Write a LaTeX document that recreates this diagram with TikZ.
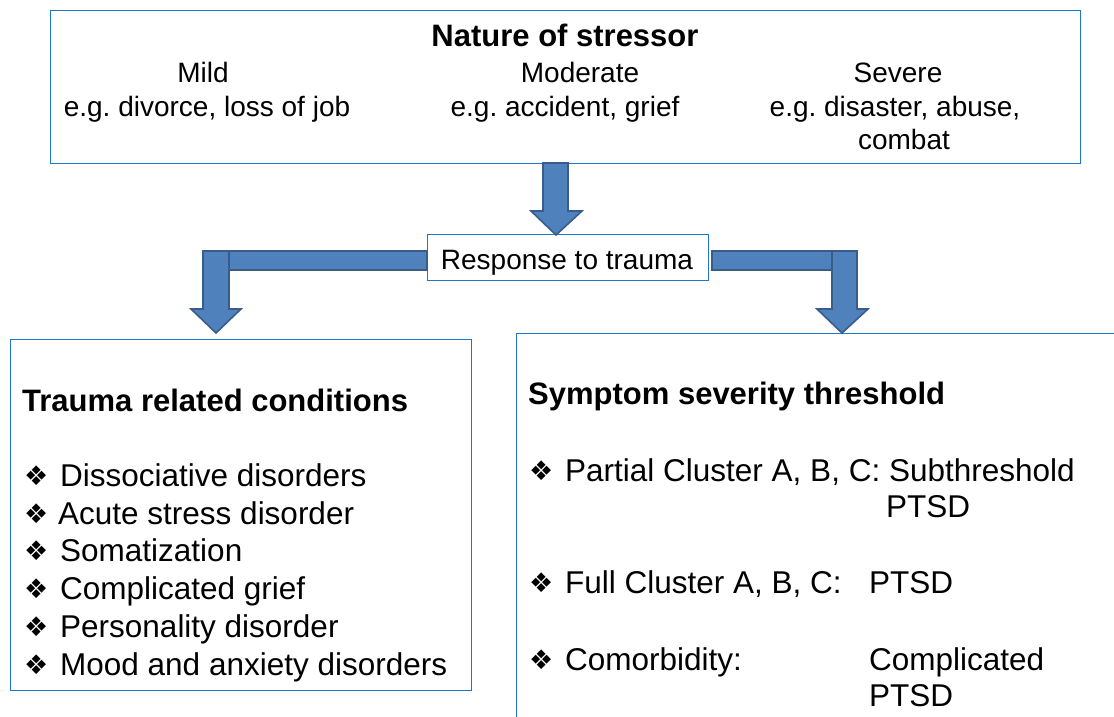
\documentclass[tikz,border=0pt]{standalone}
\usepackage{fontspec}
\setmainfont{Liberation Sans}
\newfontfamily\symfont{DejaVu Sans}
\definecolor{boxblue}{RGB}{30,120,200}
\definecolor{arrfill}{RGB}{79,129,189}
\definecolor{arredge}{RGB}{56,93,138}
\frenchspacing
\begin{document}
\begin{tikzpicture}[x=1pt,y=-1pt,
  box/.style={draw=boxblue, line width=1.3pt, inner sep=0pt},
  blockarrow/.style={fill=arrfill, draw=arredge, line width=1.6pt, line join=miter},
  txt/.style={inner sep=0pt, anchor=base, font=\fontsize{28}{33}\selectfont},
  lst/.style={inner sep=0pt, anchor=base west, font=\fontsize{31.5}{37}\selectfont},
  hd/.style={inner sep=0pt, anchor=base west, font=\fontsize{31}{37}\selectfont\bfseries},
  bul/.style={inner sep=0pt, anchor=base west, font=\symfont\fontsize{27}{30}\selectfont}]
\useasboundingbox (0,0) rectangle (1114,717);
\clip (0,0) rectangle (1114,717);
\fill[white] (0,0) rectangle (1114,717);

% boxes
\node (topbox) [box, anchor=north west, minimum width=1030pt, minimum height=153pt] at (50,10) {};
\node (resp) [box, anchor=north west, minimum width=281pt, minimum height=46pt] at (427,234) {};
\node (leftbox) [box, anchor=north west, minimum width=461pt, minimum height=351pt] at (10,339) {};
\node (rightbox) [box, anchor=north west, minimum width=700pt, minimum height=500pt] at (516,333) {};

% top box texts
\node (title) [inner sep=0pt, anchor=base, font=\fontsize{31}{37}\selectfont\bfseries] at (565,47) {Nature of stressor};
\node (mild) [txt] at (203,82) {Mild};
\node (mildeg) [txt] at (207,116) {e.g. divorce, loss of job};
\node (moderate) [txt] at (580,82) {Moderate};
\node (moderateeg) [txt] at (565,116) {e.g. accident, grief};
\node (severe) [txt] at (898,82) {Severe};
\node (severeeg) [txt] at (895,116) {e.g. disaster, abuse,};
\node (severec) [txt] at (904,149) {combat};

\node (resptext) [txt] at (567,269) {Response to trauma};

% arrows
\draw[blockarrow] (543,163) -- (568,163) -- (568,211) -- (582,211) -- (556,235) -- (531,211) -- (543,211) -- cycle;
\draw[blockarrow] (resp.west |- 0,251) -- (216,251) -- (216,270) -- (resp.west |- 0,270) -- cycle;
\draw[blockarrow] (203,251) -- (229,251) -- (229,309) -- (241,309) -- (216,333) -- (191,309) -- (203,309) -- cycle;
\draw[blockarrow] (712,251) -- (857,251) -- (857,270) -- (712,270) -- cycle;
\draw[blockarrow] (832,251) -- (857,251) -- (857,309) -- (868,309) -- (842,333) -- (817,309) -- (832,309) -- cycle;

% left box
\node (lhead) [hd] at (22,411) {Trauma related conditions};
\foreach \t/\y/\n [count=\i] in {Dissociative disorders/486/0, Acute stress disorder/524/-2, Somatization/561/0, Complicated grief/599/0, Personality disorder/637/0, Mood and anxiety disorders/675/0}{
  \node (lb\i) [bul] at (24,\y-1) {❖};
  \node (lt\i) [lst] at (60+\n,\y) {\t};
}

% right box
\node (rhead) [hd] at (528,404) {Symptom severity threshold};
\node (rb1) [bul] at (529,480) {❖};
\node (rt1) [lst] at (565,481) {Partial Cluster A, B, C: Subthreshold};
\node (rt1b) [lst] at (886,517) {PTSD};
\node (rb2) [bul] at (529,592) {❖};
\node (rt2) [lst] at (565,593) {Full Cluster A, B, C:};
\node (rt2b) [lst] at (869,593) {PTSD};
\node (rb3) [bul] at (529,669) {❖};
\node (rt3) [lst] at (565,670) {Comorbidity:};
\node (rt3b) [lst] at (869,670) {Complicated};
\node (rt3c) [lst] at (869,706) {PTSD};
\end{tikzpicture}
\end{document}
